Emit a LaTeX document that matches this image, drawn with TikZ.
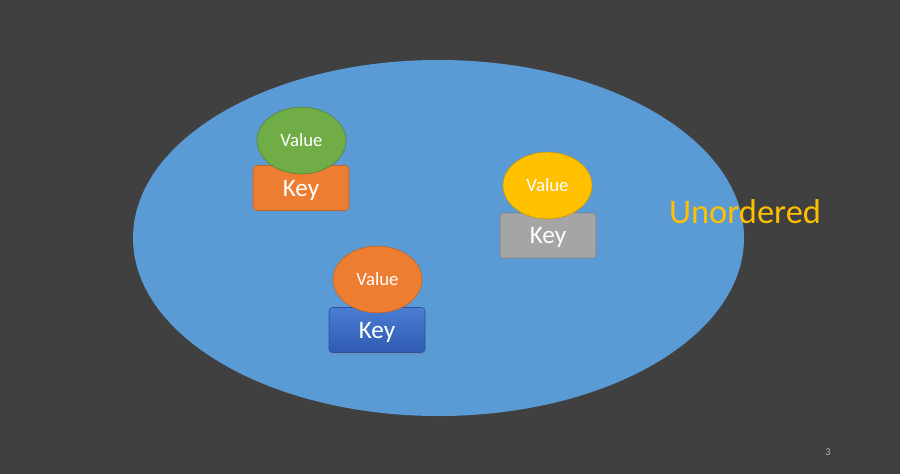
\documentclass[tikz,border=0pt]{standalone}
\usepackage{fontspec}
\setmainfont{Carlito}
\usepackage{tikz}
\usepackage{xcolor}
\usetikzlibrary{shapes.geometric,shadows}
\definecolor{slidebg}{HTML}{404040}
\definecolor{poolblue}{HTML}{5B9BD5}
\definecolor{valgreen}{HTML}{70AD47}
\definecolor{valorange}{HTML}{ED7D31}
\definecolor{valyellow}{HTML}{FFC000}
\definecolor{keygray}{HTML}{A5A5A5}
\definecolor{keytop}{HTML}{4A7DD3}
\definecolor{keybot}{HTML}{2F5BB2}
\definecolor{pagegray}{HTML}{B0B0B0}
\tikzset{
  keybox/.style={rectangle,rounded corners=3pt,minimum width=2.88cm,
                 minimum height=1.35cm,inner sep=0pt,line width=0.5pt,
                 text depth=0pt,text=white,font=\fontsize{21.5}{23}\selectfont},
  valblob/.style={ellipse,minimum width=2.67cm,minimum height=2.0cm,
                  inner sep=0pt,line width=0.5pt,text=white,
                  font=\fontsize{16}{18}\selectfont}
}

\begin{document}
\begin{tikzpicture}[x=0.03cm,y=-0.03cm]
    \fill[slidebg] (0,0) rectangle (900,474);
    \path[use as bounding box] (0,0) rectangle (900,474);
    % the unordered pool
    \fill[poolblue] (438.5,238) ellipse [x radius=305.5,y radius=178];
    \node[font=\fontsize{29.4}{31}\selectfont,text=valyellow] (unord) at (745,212)
      {Unordered};
    % keys
    \node[keybox,draw=valorange!80!black,fill=valorange] (key1) at (301,188) {Key};
    \node[keybox,draw=keygray!80!black,fill=keygray] (key2) at (548,235.5) {Key};
    \node[keybox,draw=keybot!90!black,top color=keytop,bottom color=keybot,
          drop shadow={opacity=0.35,shadow xshift=0.5pt,shadow yshift=-1.5pt}]
      (key3) at (377,330) {Key};
    % values
    \node[valblob,draw=valgreen!75!black,fill=valgreen] (val1) at (301.5,140.5) {Value};
    \node[valblob,draw=valyellow!80!black,fill=valyellow] (val2) at (547.5,185.5) {Value};
    \node[valblob,draw=valorange!80!black,fill=valorange] (val3) at (377.5,279.5) {Value};
    \node[font=\fontsize{9}{10}\selectfont,text=pagegray] (pnum) at (828,452) {3};
  \end{tikzpicture}
\end{document}
